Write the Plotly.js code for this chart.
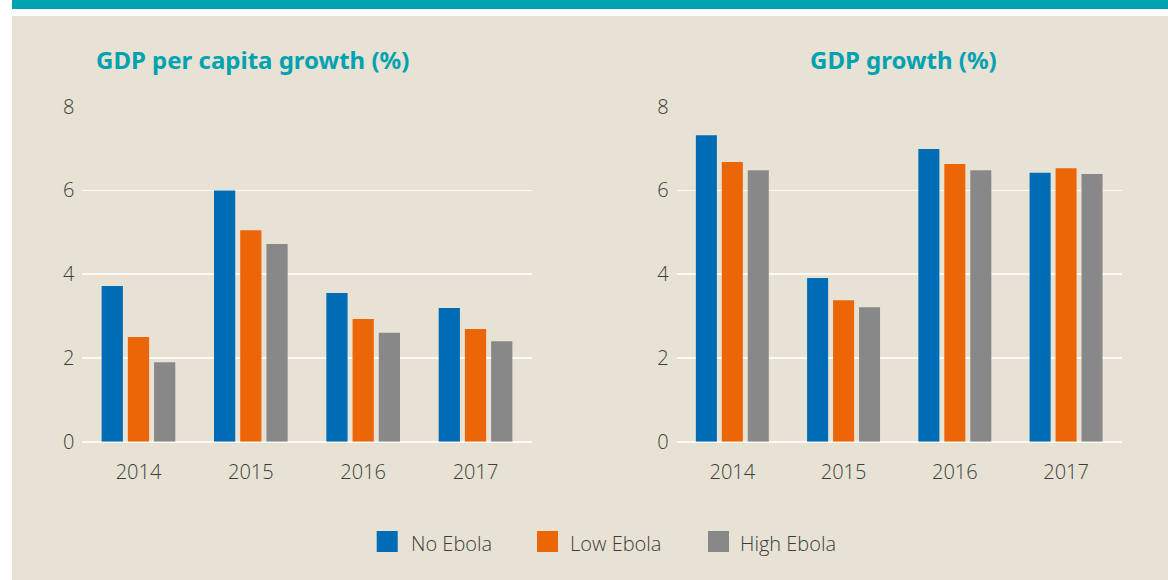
<!DOCTYPE html>
<html>
<head>
<meta charset="utf-8">
<script src="https://cdn.plot.ly/plotly-3.0.1.min.js"></script>
<style>
html,body{margin:0;padding:0;background:#ffffff;}
#chart{width:1168px;height:580px;}
</style>
</head>
<body>
<div id="chart"></div>
<script>
const years = ['2014', '2015', '2016', '2017'];
const seriesNames = ['No Ebola', 'Low Ebola', 'High Ebola'];
const perCapitaNoEbola = [3.72, 6.00, 3.55, 3.19];
const perCapitaLowEbola = [2.50, 5.05, 2.93, 2.69];
const perCapitaHighEbola = [1.90, 4.72, 2.60, 2.40];
const gdpNoEbola = [7.32, 3.91, 6.99, 6.42];
const gdpLowEbola = [6.68, 3.38, 6.63, 6.53];
const gdpHighEbola = [6.48, 3.21, 6.48, 6.39];
const yTickValues = [0, 2, 4, 6, 8];
const chartTitles = ['GDP per capita growth (%)', 'GDP growth (%)'];

const colors = ['#006cb5', '#ec6608', '#888888'];
const W = 1168, H = 580;
const px = v => v / W;
const py = v => 1 - v / H;

const tickFont = {family: '"Open Sans", "Noto Sans", sans-serif', size: 20, color: '#3d3d3d', weight: 300};

const leftSets = [perCapitaNoEbola, perCapitaLowEbola, perCapitaHighEbola];
const rightSets = [gdpNoEbola, gdpLowEbola, gdpHighEbola];

const traces = [];
leftSets.forEach((vals, i) => traces.push({
  type: 'bar', x: years, y: vals, name: seriesNames[i], xaxis: 'x', yaxis: 'y',
  marker: {color: colors[i], line: {width: 0}}, showlegend: false, hoverinfo: 'none'
}));
rightSets.forEach((vals, i) => traces.push({
  type: 'bar', x: years, y: vals, name: seriesNames[i], xaxis: 'x2', yaxis: 'y2',
  marker: {color: colors[i], line: {width: 0}}, showlegend: false, hoverinfo: 'none'
}));

function xAxis(dom, anchor) {
  return {
    domain: dom, anchor: anchor, type: 'category', range: [-0.5, 3.5],
    showgrid: false, zeroline: false, showline: false,
    ticks: 'outside', ticklen: 12, tickcolor: 'rgba(0,0,0,0)',
    tickfont: tickFont, fixedrange: true
  };
}
function yAxis(dom, anchor) {
  return {
    domain: dom, anchor: anchor, range: [0, 8], tickvals: yTickValues,
    showgrid: true, gridcolor: '#fbfaf7', gridwidth: 1.6,
    zeroline: true, zerolinecolor: '#fbfaf7', zerolinewidth: 1.6,
    showline: false, ticks: 'outside', ticklen: 3, tickcolor: 'rgba(0,0,0,0)',
    tickfont: tickFont, fixedrange: true
  };
}

const yDom = [py(441.7), py(106.7)];

const shapes = [
  {type: 'rect', xref: 'paper', yref: 'paper', x0: px(12), x1: 1, y0: py(0), y1: py(9),
   fillcolor: '#00a1b0', line: {width: 0}, layer: 'below'},
  {type: 'rect', xref: 'paper', yref: 'paper', x0: px(12), x1: 1, y0: 0, y1: py(16),
   fillcolor: '#e7e2d4', line: {width: 0}, layer: 'below'}
];

const legendSquareX = [376.7, 537, 708];
const legendTextX = [408.5, 567.5, 738];
const annotations = [];
seriesNames.forEach((name, i) => {
  shapes.push({type: 'rect', xref: 'paper', yref: 'paper',
    x0: px(legendSquareX[i]), x1: px(legendSquareX[i] + 21), y0: py(552), y1: py(531),
    fillcolor: colors[i], line: {width: 0}});
  annotations.push({xref: 'paper', yref: 'paper', x: px(legendTextX[i]), y: py(543),
    xanchor: 'left', yanchor: 'middle', showarrow: false, text: name, font: tickFont});
});

const titleFont = {family: '"Noto Sans", sans-serif', size: 24, color: '#00a1b0', weight: 700, stretch: 'condensed'};
annotations.push({xref: 'paper', yref: 'paper', x: px(252.5), y: py(59), xanchor: 'center', yanchor: 'middle',
  showarrow: false, text: chartTitles[0], font: titleFont});
annotations.push({xref: 'paper', yref: 'paper', x: px(903.5), y: py(59), xanchor: 'center', yanchor: 'middle',
  showarrow: false, text: chartTitles[1], font: titleFont});

const layout = {
  width: W, height: H,
  margin: {l: 0, r: 0, t: 0, b: 0, pad: 0},
  paper_bgcolor: '#ffffff', plot_bgcolor: 'rgba(0,0,0,0)',
  barmode: 'group', bargap: 0.3, bargroupgap: 0.19,
  showlegend: false,
  xaxis: xAxis([px(82.3), px(531.7)], 'y'),
  yaxis: yAxis(yDom, 'x'),
  xaxis2: xAxis([px(676.7), px(1121.7)], 'y2'),
  yaxis2: yAxis(yDom, 'x2'),
  shapes: shapes,
  annotations: annotations
};

Plotly.newPlot('chart', traces, layout, {displayModeBar: false, staticPlot: true});
</script>
</body>
</html>
